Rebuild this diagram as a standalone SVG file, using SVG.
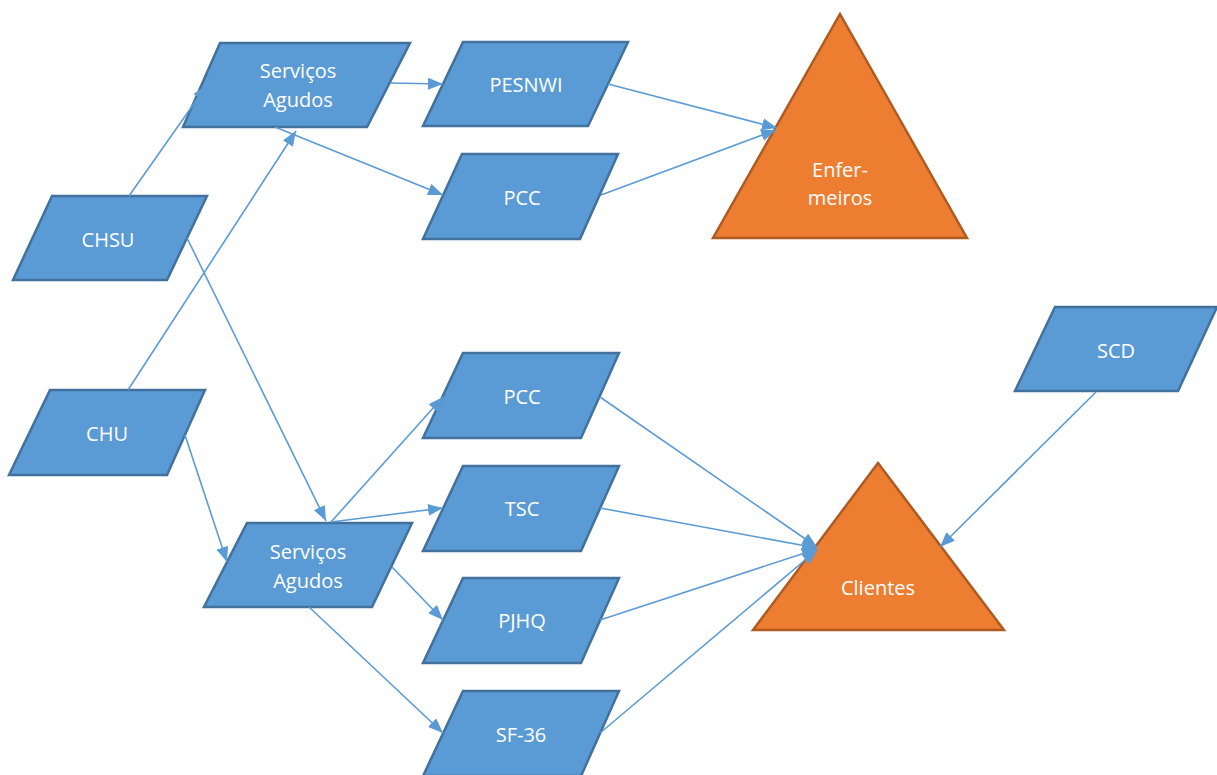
<svg xmlns="http://www.w3.org/2000/svg" width="1217" height="775" viewBox="0 0 1217 775">
  <style>
    .box { fill: #5B9BD5; stroke: #41719C; stroke-width: 2.5; stroke-linejoin: miter; }
    .tri { fill: #ED7D31; stroke: #AE5A21; stroke-width: 2.5; stroke-linejoin: miter; }
    .lbl { fill: #FFFFFF; font-family: "Open Sans", "Noto Sans", "Liberation Sans", sans-serif; font-size: 20px; text-anchor: middle; }
    .edge { fill: none; stroke: #5B9BD5; stroke-width: 1.6; marker-end: url(#arrow); }
  </style>
  <defs>
    <marker id="arrow" markerUnits="userSpaceOnUse" markerWidth="16" markerHeight="12" refX="15" refY="6" orient="auto">
      <path d="M0,0 L15,6 L0,12 Z" fill="#5B9BD5"/>
    </marker>
  </defs>
  <rect width="1217" height="775" fill="#FFFFFF"/>

  <!-- source nodes -->
  <g id="chsu">
    <polygon class="box" points="52,196 207,196 167,280 13,280"/>
    <text class="lbl" x="108" y="247">CHSU</text>
  </g>
  <g id="chu">
    <polygon class="box" points="50,390 205,390 167,475 9,475"/>
    <text class="lbl" x="107" y="441">CHU</text>
  </g>

  <!-- service nodes -->
  <g id="servicos-agudos-top">
    <polygon class="box" points="220,43 410,43 367,127 183,127"/>
    <text class="lbl" x="298" y="78">Serviços</text>
    <text class="lbl" x="298" y="107">Agudos</text>
  </g>
  <g id="servicos-agudos-bottom">
    <polygon class="box" points="247,523 412,523 372,607 204,607"/>
    <text class="lbl" x="308" y="559">Serviços</text>
    <text class="lbl" x="308" y="588">Agudos</text>
  </g>

  <!-- instrument nodes -->
  <g id="pesnwi">
    <polygon class="box" points="463,42 628,42 588,126 423,126"/>
    <text class="lbl" x="526" y="92">PESNWI</text>
  </g>
  <g id="pcc-top">
    <polygon class="box" points="462,154 618,154 580,239 423,239"/>
    <text class="lbl" x="522" y="205">PCC</text>
  </g>
  <g id="pcc-bottom">
    <polygon class="box" points="463,353 619,353 581,438 423,438"/>
    <text class="lbl" x="522" y="404">PCC</text>
  </g>
  <g id="tsc">
    <polygon class="box" points="463,466 619,466 581,551 423,551"/>
    <text class="lbl" x="522" y="516">TSC</text>
  </g>
  <g id="pjhq">
    <polygon class="box" points="463,578 619,578 581,663 423,663"/>
    <text class="lbl" x="522" y="628">PJHQ</text>
  </g>
  <g id="sf36">
    <polygon class="box" points="463,691 619,691 581,776 423,776"/>
    <text class="lbl" x="521" y="742">SF-36</text>
  </g>
  <g id="scd">
    <polygon class="box" points="1055,307 1217,307 1178,391 1015,391"/>
    <text class="lbl" x="1116" y="358">SCD</text>
  </g>

  <!-- target groups -->
  <g id="enfermeiros">
    <polygon class="tri" points="840,14 967,238 713,238"/>
    <text class="lbl" x="840" y="177">Enfer-</text>
    <text class="lbl" x="840" y="205">meiros</text>
  </g>
  <g id="clientes">
    <polygon class="tri" points="878,463 1004,630 753,630"/>
    <text class="lbl" x="878" y="595">Clientes</text>
  </g>

  <!-- connectors, drawn over the node outlines -->
  <g id="connectors">
    <line class="edge" x1="129" y1="196" x2="207" y2="85"/>
    <line class="edge" x1="128" y1="390" x2="296" y2="131"/>
    <line class="edge" x1="275" y1="127" x2="443" y2="195"/>
    <line class="edge" x1="390" y1="83" x2="443" y2="84"/>
    <line class="edge" x1="608" y1="84" x2="777" y2="128"/>
    <line class="edge" x1="601" y1="195" x2="776" y2="130"/>
    <line class="edge" x1="187" y1="238" x2="326" y2="521"/>
    <line class="edge" x1="185" y1="435" x2="227" y2="562"/>
    <line class="edge" x1="331" y1="522" x2="443" y2="397"/>
    <line class="edge" x1="331" y1="522" x2="443" y2="508"/>
    <line class="edge" x1="392" y1="567" x2="443" y2="620"/>
    <line class="edge" x1="309" y1="607" x2="443" y2="733"/>
    <line class="edge" x1="600" y1="397" x2="817" y2="547"/>
    <line class="edge" x1="600" y1="508" x2="817" y2="548"/>
    <line class="edge" x1="600" y1="620" x2="817" y2="549"/>
    <line class="edge" x1="600" y1="733" x2="817" y2="550"/>
    <line class="edge" x1="1096" y1="392" x2="940" y2="547"/>
  </g>
</svg>
